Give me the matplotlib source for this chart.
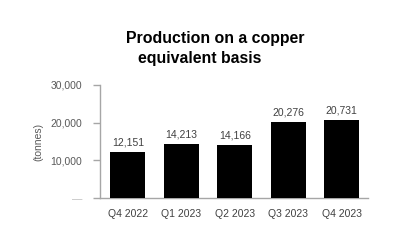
import matplotlib
matplotlib.use("Agg")
import matplotlib.pyplot as plt

categories = ["Q4 2022", "Q1 2023", "Q2 2023", "Q3 2023", "Q4 2023"]
values = [12151, 14213, 14166, 20276, 20731]
yticks = [0, 10000, 20000, 30000]
ytick_labels = ["\u2014", "10,000", "20,000", "30,000"]

plt.rcParams['font.family'] = ['Liberation Sans', 'DejaVu Sans']

fig = plt.figure(figsize=(4, 2.5), dpi=100)
ax = fig.add_axes([0.25, 0.208, 0.67, 0.452])

x = list(range(len(categories)))
ax.bar(x, values, width=0.65, color="black", zorder=3)
for xi, v in zip(x, values):
    ax.text(xi, v + 1200, f"{v:,}", ha="center", va="bottom", fontsize=7.5, color="#404040")

ax.set_xlim(-0.52, 4.49)
ax.set_ylim(0, 30000)
ax.set_yticks(yticks)
ax.set_yticklabels(ytick_labels)
ax.set_xticks(x)
ax.set_xticklabels(categories)

for s in ["top", "right"]:
    ax.spines[s].set_visible(False)
for s in ["left", "bottom"]:
    ax.spines[s].set_color("#a6a6a6")
    ax.spines[s].set_linewidth(1.0)

ax.tick_params(axis="y", colors="#a6a6a6", labelcolor="#595959", labelsize=7.5, length=5, width=1.0, pad=8)
ax.tick_params(axis="x", length=0, labelcolor="#404040", labelsize=7.5, pad=8)
ax.get_yticklabels()[0].set_color("#bfbfbf")

ax.set_ylabel("(tonnes)", fontsize=7.5, color="#595959", labelpad=5)

fig.text(0.315, 0.848, "Production on a copper", fontsize=11.4, fontweight="bold", ha="left", va="center", color="black")
fig.text(0.345, 0.768, "equivalent basis", fontsize=11.4, fontweight="bold", ha="left", va="center", color="black")

fig.savefig("out.png", dpi=100, facecolor="white")
